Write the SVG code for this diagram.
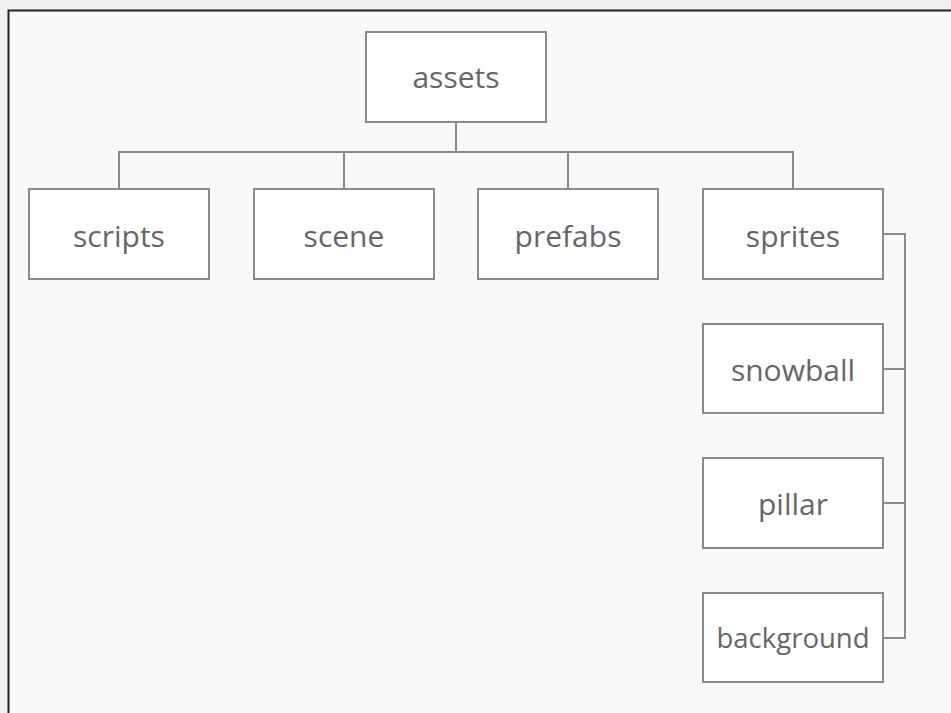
<svg xmlns="http://www.w3.org/2000/svg" width="951" height="713" viewBox="0 0 951 713">
<style>
.box{fill:#ffffff;stroke:#8a8a8a;stroke-width:2}
.lbl{font-family:"Open Sans","Noto Sans",sans-serif;font-size:30px;fill:#666666;text-anchor:middle}
.wire{fill:none;stroke:#8a8a8a;stroke-width:2}
</style>
<rect x="0" y="0" width="951" height="713" fill="#f0f0f0"/>
<rect x="8.5" y="10.5" width="960" height="720" fill="#f8f9fb" stroke="#222222" stroke-width="2"/>
<g id="connectors">
<path class="wire" d="M456 122 V152 M119 189 V152 H793 V189 M344 152 V189 M568 152 V189"/>
<path class="wire" d="M883 234 H905 V638 H883 M883 369 H905 M883 503 H905"/>
</g>
<g id="assets"><rect class="box" x="366" y="32" width="180" height="90"/><text class="lbl" x="456" y="88">assets</text></g>
<g id="scripts"><rect class="box" x="29" y="189" width="180" height="90"/><text class="lbl" x="119" y="247">scripts</text></g>
<g id="scene"><rect class="box" x="254" y="189" width="180" height="90"/><text class="lbl" x="344" y="247">scene</text></g>
<g id="prefabs"><rect class="box" x="478" y="189" width="180" height="90"/><text class="lbl" x="568" y="247">prefabs</text></g>
<g id="sprites"><rect class="box" x="703" y="189" width="180" height="90"/><text class="lbl" x="793" y="247">sprites</text></g>
<g id="snowball"><rect class="box" x="703" y="324" width="180" height="89"/><text class="lbl" x="793" y="381">snowball</text></g>
<g id="pillar"><rect class="box" x="703" y="458" width="180" height="90"/><text class="lbl" x="793" y="515">pillar</text></g>
<g id="background"><rect class="box" x="703" y="593" width="180" height="89"/><text class="lbl" x="793" y="648" style="font-size:27.5px">background</text></g>
</svg>
